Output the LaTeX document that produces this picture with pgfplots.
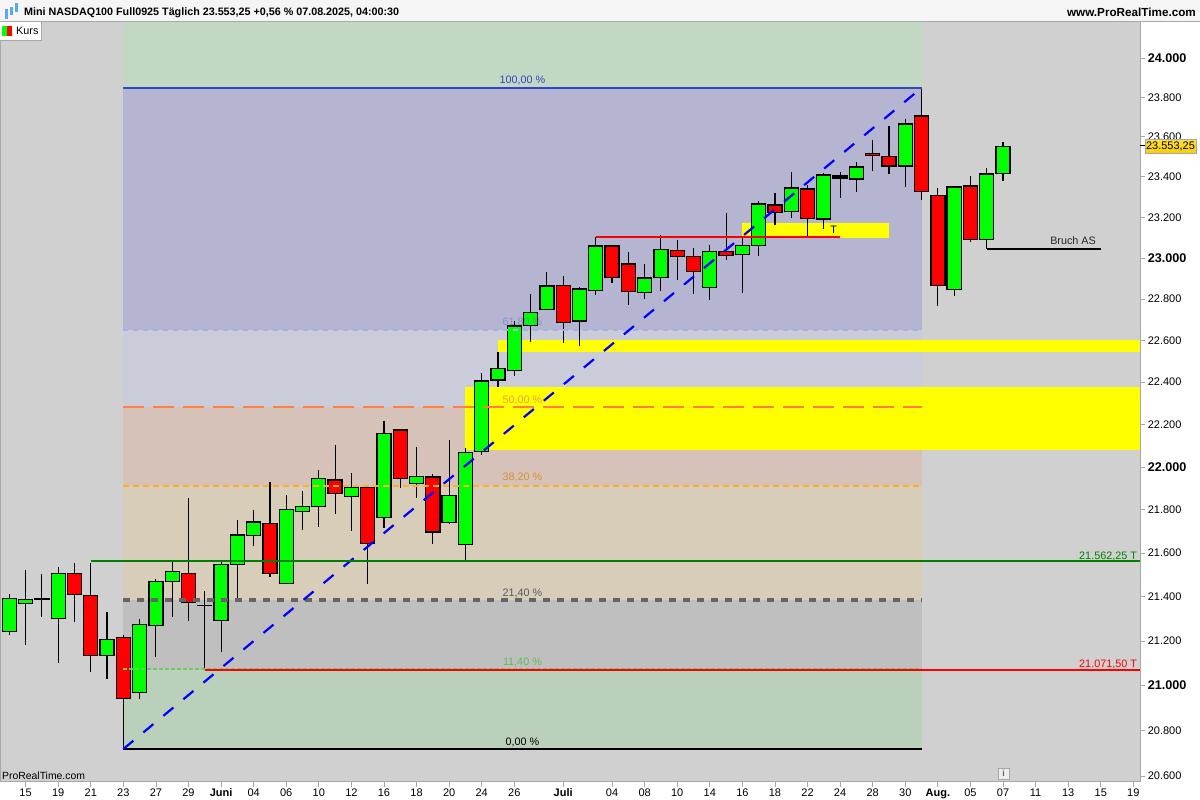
\documentclass[border=0pt]{standalone}
\usepackage{fontspec}
\setmainfont{Liberation Sans}
\usepackage{pgfplots}
\pgfplotsset{compat=1.18}
\definecolor{cg}{HTML}{00FF00}
\definecolor{cr}{HTML}{FF0000}
\definecolor{cy}{HTML}{FFFF00}
\definecolor{fr}{HTML}{A8A8A8}
\definecolor{bg}{HTML}{D0D0D0}
\definecolor{b1}{HTML}{C3D8C3}
\definecolor{b2}{HTML}{B5B5D2}
\definecolor{b3}{HTML}{CACDD9}
\definecolor{b4}{HTML}{D6C2B8}
\definecolor{b5}{HTML}{D8CDB9}
\definecolor{b6}{HTML}{BFBFBF}
\definecolor{b7}{HTML}{BBD0BB}
\definecolor{l100}{HTML}{3246C8}
\definecolor{l62}{HTML}{A0B4EB}
\definecolor{l50}{HTML}{FF8040}
\definecolor{l38}{HTML}{FFB020}
\definecolor{l21}{HTML}{646464}
\definecolor{l11}{HTML}{66CC66}
\definecolor{t62}{HTML}{6A7ABA}
\definecolor{t50}{HTML}{F0A03C}
\definecolor{t38}{HTML}{D79132}
\definecolor{t21}{HTML}{5A5A5A}
\definecolor{t11}{HTML}{5ABE5A}
\definecolor{dg}{HTML}{008000}
\definecolor{ico}{HTML}{5AAAEB}
\definecolor{tagA}{HTML}{FFE13C}
\definecolor{tagB}{HTML}{FACD00}
\tikzset{wick/.style={black,line width=1.15pt},body/.style={draw=black,line width=1.3pt}}
% date index, open, high, low, close
\newcommand\up[5]{\pgfmathsetmacro\xa{#1-.43}\pgfmathsetmacro\xb{#1+.43}%
 \addplot[wick,forget plot] coordinates {(#1,#3)(#1,#4)};%
 \addplot[body,fill=cg,forget plot] coordinates {(\xa,#2)(\xb,#2)(\xb,#5)(\xa,#5)} --cycle;}
\newcommand\dn[5]{\pgfmathsetmacro\xa{#1-.43}\pgfmathsetmacro\xb{#1+.43}%
 \addplot[wick,forget plot] coordinates {(#1,#3)(#1,#4)};%
 \addplot[body,fill=cr,forget plot] coordinates {(\xa,#2)(\xb,#2)(\xb,#5)(\xa,#5)} --cycle;}
\newcommand\band[3]{\addplot[draw=none,fill=#3,forget plot] coordinates {(7,#1)(56,#1)(56,#2)(7,#2)} --cycle;}
\newcommand\ybox[4]{\addplot[draw=none,fill=cy,forget plot] coordinates {(#1,#3)(#2,#3)(#2,#4)(#1,#4)} --cycle;}
\newcommand\bt[1]{\textbf{\fontsize{12.6}{13}\selectfont #1}}
\begin{document}
\fontsize{10.8}{13}\selectfont
\begin{tikzpicture}[x=1pt,y=1pt]
\useasboundingbox (0,0) rectangle (1200,800);
\fill[white] (0,0) rectangle (1200,800);
\begin{axis}[
  at={(0pt,18pt)},anchor=south west,
  scale only axis,width=1140pt,height=760pt,
  y coord trafo/.code={\begingroup\pgfkeys{/pgf/fpu=true,/pgf/fpu/output format=fixed}\pgfmathparse{1000*ln(#1/20000)}\pgfmathsmuggle\pgfmathresult\endgroup},
  xmin=-0.571,xmax=69.41,ymin=20573.6,ymax=24184.5,
  axis background/.style={fill=bg},
  axis line style={fr,line width=1pt},
  tick style={fr,line width=.8pt},
  major tick length=5pt,tick align=outside,
  xtick pos=bottom,ytick pos=right,yticklabel pos=right,
  xtick={1,3,5,7,9,11,13,15,17,19,21,23,25,27,29,31,34,37,39,41,43,45,47,49,51,53,55,57,59,61,63,65,67,69},
  xticklabels={15,19,21,23,27,29,\textbf{Juni},04,06,10,12,16,18,20,24,26,\textbf{Juli},04,08,10,14,16,18,22,24,28,30,\textbf{Aug.},05,07,11,13,15,19},
  ytick={20600,20800,21000,21200,21400,21600,21800,22000,22200,22400,22600,22800,23000,23200,23400,23600,23800,24000},
  yticklabels={20.600,20.800,\bt{21.000},21.200,21.400,21.600,21.800,\bt{22.000},22.200,22.400,22.600,22.800,\bt{23.000},23.200,23.400,23.600,23.800,\bt{24.000}},
  tick label style={font=\fontsize{11}{13}\selectfont,black},
  xticklabel style={yshift=3pt,text height=8.5pt,text depth=2.5pt},
  yticklabel style={xshift=-1pt},
]
% Fibonacci bands
\band{23847}{24184.5}{b1}
\band{22652}{23847}{b2}
\band{22283}{22652}{b3}
\band{21913}{22283}{b4}
\band{21388}{21913}{b5}
\band{21075}{21388}{b6}
\band{20718.6}{21075}{b7}
% level labels (behind the candles)
\node[text=l100,yshift=-1pt] at (axis cs:31.5,23888) {100,00 \%};
\node[text=t38,yshift=-1pt] at (axis cs:31.5,21953) {38,20 \%};
\node[text=t21,yshift=-1pt] at (axis cs:31.5,21422) {21,40 \%};
\node[text=t11,yshift=-1pt] at (axis cs:31.5,21110) {11,40 \%};
% yellow zones
\ybox{30}{69.41}{22546}{22604}
\ybox{28}{69.41}{22079.5}{22378}
\ybox{45}{54}{23098}{23172}
\node[text=t50,yshift=-1pt] at (axis cs:31.5,22320) {50,00 \%};
% candles: index, open, high, low, close
\up{0}{21242}{21413}{21227}{21394}
\up{1}{21369}{21523}{21182}{21389}
\up{2}{21390}{21505}{21310}{21392}
\up{3}{21301}{21537}{21101}{21508}
\dn{4}{21508}{21555}{21286}{21412}
\dn{5}{21407}{21555}{21061}{21134}
\up{6}{21134}{21332}{21030}{21208}
\dn{7}{21217}{21227}{20718}{20942}
\up{8}{20968}{21300}{20940}{21276}
\up{9}{21270}{21482}{21128}{21471}
\up{10}{21470}{21564}{21309}{21517}
\dn{11}{21508}{21855}{21291}{21375}
\dn{12}{21362}{21427}{21070}{21360}
\up{13}{21292}{21569}{21151}{21549}
\up{14}{21547}{21753}{21395}{21683}
\up{15}{21680}{21800}{21632}{21743}
\dn{16}{21738}{21930}{21491}{21506}
\up{17}{21460}{21869}{21460}{21803}
\up{18}{21792}{21888}{21707}{21817}
\up{19}{21815}{21986}{21721}{21947}
\dn{20}{21938}{22103}{21781}{21875}
\up{21}{21862}{21972}{21703}{21905}
\dn{22}{21905}{21907}{21459}{21645}
\up{23}{21765}{22216}{21716}{22158}
\dn{24}{22173}{22174}{21902}{21945}
\up{25}{21922}{22094}{21856}{21957}
\dn{26}{21952}{21967}{21642}{21697}
\up{27}{21741}{22127}{21735}{21868}
\up{28}{21640}{22089}{21560}{22069}
\up{29}{22073}{22445}{22056}{22405}
\up{30}{22410}{22545}{22378}{22467}
\up{31}{22457}{22694}{22430}{22669}
\up{32}{22672}{22825}{22593}{22736}
\up{33}{22751}{22932}{22751}{22862}
\dn{34}{22867}{22912}{22588}{22686}
\up{35}{22693}{22859}{22574}{22848}
\up{36}{22843}{23103}{22820}{23058}
\dn{37}{23058}{23064}{22878}{22906}
\dn{38}{22970}{23030}{22771}{22838}
\up{39}{22833}{22971}{22800}{22901}
\up{40}{22906}{23114}{22839}{23043}
\dn{41}{23038}{23089}{22893}{23009}
\dn{42}{23009}{23049}{22825}{22935}
\up{43}{22855}{23064}{22796}{23033}
\dn{44}{23033}{23222}{22990}{23013}
\up{45}{23018}{23103}{22829}{23062}
\up{46}{23062}{23281}{23010}{23265}
\dn{47}{23260}{23320}{23162}{23225}
\up{48}{23230}{23425}{23197}{23344}
\dn{49}{23339}{23360}{23103}{23195}
\up{50}{23191}{23420}{23143}{23409}
\dn{51}{23404}{23425}{23295}{23394}
\up{52}{23389}{23475}{23326}{23449}
\dn{53}{23518}{23585}{23430}{23508}
\dn{54}{23503}{23656}{23415}{23454}
\up{55}{23454}{23691}{23351}{23664}
\dn{56}{23705}{23847}{23286}{23328}
\dn{57}{23309}{23345}{22767}{22865}
\up{58}{22846}{23350}{22815}{23349}
\dn{59}{23354}{23405}{23079}{23090}
\up{60}{23090}{23445}{23044}{23414}
\up{61}{23417}{23575}{23380}{23553.25}
% Fibonacci levels
\addplot[forget plot,color=l100,line width=2.3pt] coordinates {(7,23847)(56,23847)};
\addplot[forget plot,color=l62,line width=2pt,dash pattern=on 5pt off 5pt] coordinates {(7,22652)(56,22652)};
\addplot[forget plot,color=l50,line width=2.2pt,dash pattern=on 20.7pt off 9.3pt] coordinates {(7,22283)(56,22283)};
\addplot[forget plot,color=l38,line width=2pt,dash pattern=on 6pt off 4pt] coordinates {(7,21913)(56,21913)};
\addplot[forget plot,color=l21,line width=4pt,dash pattern=on 7pt off 7pt] coordinates {(7,21388)(56,21388)};
\addplot[forget plot,color=l11,line width=1.2pt,dash pattern=on 4pt off 2pt] coordinates {(7,21075)(56,21075)};
\addplot[forget plot,black,line width=2.9pt] coordinates {(7,20718.6)(56,20718.6)};
% trend line
\addplot[forget plot,blue,line width=2.2pt,dash pattern=on 13pt off 13pt] coordinates {(7,20718.6)(56,23847)};
% horizontal levels
\addplot[forget plot,color=dg,line width=2pt] coordinates {(5,21562.25)(69.41,21562.25)};
\addplot[forget plot,cr,line width=2pt] coordinates {(12,21071.5)(69.41,21071.5)};
\addplot[forget plot,cr,line width=2.4pt] coordinates {(36,23103)(51,23103)};
\addplot[forget plot,black,line width=2.4pt] coordinates {(60,23044)(67,23044)};
\node[text=t62,text opacity=.65,yshift=-1pt] at (axis cs:31.5,22689) {61,80 \%};
\node[text=dg,anchor=east,inner sep=0pt,yshift=-1pt] at (axis cs:69.23,21592) {21.562,25 T};
\node[text=cr,anchor=east,inner sep=0pt,yshift=-1pt] at (axis cs:69.23,21101) {21.071,50 T};
\node[text=black,yshift=-1pt] at (axis cs:50.6,23143) {T};
\node[text=black!85] at (axis cs:65.3,23083) {Bruch AS};
\node[text=black,yshift=-1pt] at (axis cs:31.5,20754) {0,00 \%};
\end{axis}
% window furniture
\fill[white!96!black] (0,779) rectangle (1200,800);
\draw[fr,line width=1pt] (0,778.5) -- (1200,778.5);
\draw[fr,line width=1pt] (0.5,18) -- (0.5,778.5);
\fill[ico] (4.5,781) rectangle (7.5,791);
\fill[ico] (9.5,785) rectangle (12.5,793);
\fill[ico] (14.5,788) rectangle (17.5,797);
\node[anchor=west,inner sep=0pt] at (24,787.5) {\textbf{\fontsize{10.75}{13}\selectfont Mini NASDAQ100 Full0925 Täglich 23.553,25 +0,56 \% 07.08.2025, 04:00:30}};
\node[anchor=east,inner sep=0pt] at (1196,787.5) {\textbf{\fontsize{11.7}{13}\selectfont www.ProRealTime.com}};
\fill[white] (0,760) rectangle (41,778);
\draw[fr,line width=1pt] (0,759.5) -- (41,759.5) -- (41,778);
\fill[cg] (2,764) rectangle (7,774);
\fill[cr] (7,764) rectangle (12,774);
\node[anchor=west,inner sep=0pt] at (16,769.5) {Kurs};
\node[anchor=west,inner sep=0pt] at (2,24.5) {\fontsize{10.4}{12}\selectfont ProRealTime.com};
\fill[white!80!fr] (998,21) rectangle (1009,32);
\draw[fr] (998,21) rectangle (1009,32);
\node[inner sep=0pt,text=black!60] at (1003.5,26.5) {\fontsize{9}{10}\selectfont\textbf{i}};
\draw[black,line width=1pt] (1140,654) -- (1145,654);
\shade[top color=tagA,bottom color=tagB] (1145,647) rectangle (1196,660.5);
\draw[fr,line width=.6pt] (1145,647) rectangle (1196,660.5);
\node[inner sep=0pt] at (1170.5,653.7) {\fontsize{11}{13}\selectfont 23.553,25};
\end{tikzpicture}
\end{document}
